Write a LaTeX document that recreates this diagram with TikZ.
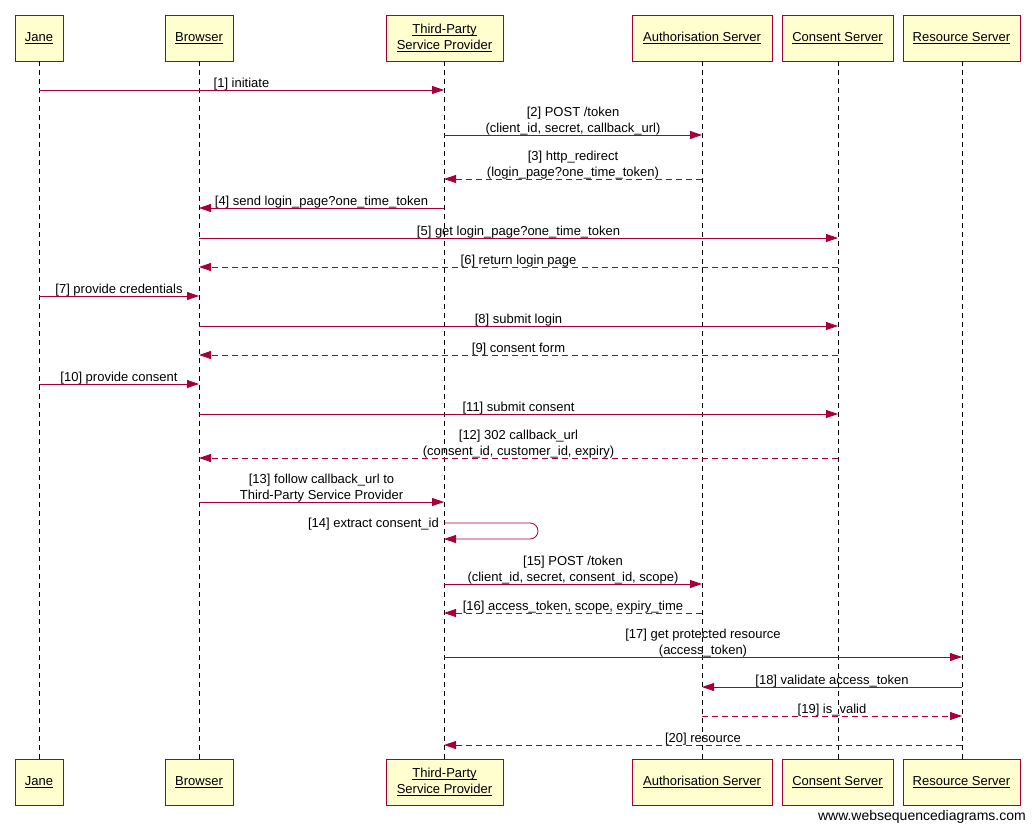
\documentclass[tikz,border=0pt]{standalone}
\usepackage{fontspec}
\setmainfont{Liberation Sans}
\usetikzlibrary{arrows.meta}
\definecolor{wsdred}{HTML}{A80036}
\definecolor{wsdfill}{HTML}{FEFECE}
\newcommand\ulx[1]{\underline{\raisebox{0pt}[\height][0pt]{#1}}}
\newcommand\seqmsg[6]{%
  \coordinate (#1a) at (#2,#4);
  \coordinate (#1b) at (#3,#4);
  \draw[#5] (#1a) -- node[lbl]{#6} (#1b);}
\begin{document}
\begin{tikzpicture}[x=1pt,y=-1pt,
  actor/.style={draw=wsdred,fill=wsdfill,line width=0.8pt,minimum height=46pt,inner sep=0pt,align=center,font=\fontsize{13}{15.5}\selectfont},
  life/.style={draw=black,line width=0.7pt,dash pattern=on 5pt off 4pt},
  msg/.style={draw=wsdred,line width=0.8pt,-{Triangle[length=12pt,width=8pt]}},
  rmsg/.style={msg,dash pattern=on 6pt off 4pt},
  lbl/.style={anchor=south,inner sep=0pt,yshift=-0.5pt,align=center,text=black,font=\fontsize{13}{15.5}\selectfont},
  selflbl/.style={anchor=east,inner sep=0pt,xshift=-5pt,yshift=-1.5pt,text=black,font=\fontsize{13}{15.5}\selectfont}]
\useasboundingbox (0,0) rectangle (1035,829);
% actors top
\node[actor,minimum width=48pt]  (jt) at (39,38)    {\ulx{Jane}};
\node[actor,minimum width=68pt]  (bt) at (199,38)   {\ulx{Browser}};
\node[actor,minimum width=117pt] (tt) at (444.5,38) {\ulx{Third-Party}\\\ulx{Service Provider}};
\node[actor,minimum width=140pt] (at) at (702,38)   {\ulx{Authorisation Server}};
\node[actor,minimum width=111pt] (ct) at (837.5,38) {\ulx{Consent Server}};
\node[actor,minimum width=117pt] (rt) at (961.5,38) {\ulx{Resource Server}};
% actors bottom
\node[actor,minimum width=48pt]  (jb) at (39,782)    {\ulx{Jane}};
\node[actor,minimum width=68pt]  (bb) at (199,782)   {\ulx{Browser}};
\node[actor,minimum width=117pt] (tb) at (444.5,782) {\ulx{Third-Party}\\\ulx{Service Provider}};
\node[actor,minimum width=140pt] (ab) at (702,782)   {\ulx{Authorisation Server}};
\node[actor,minimum width=111pt] (cb) at (837.5,782) {\ulx{Consent Server}};
\node[actor,minimum width=117pt] (rb) at (961.5,782) {\ulx{Resource Server}};
% lifelines
\coordinate (jl1) at (39,61);  \coordinate (jl2) at (39,759);
\coordinate (bl1) at (199,61); \coordinate (bl2) at (199,759);
\coordinate (tl1) at (444,61); \coordinate (tl2) at (444,759);
\coordinate (al1) at (702,61); \coordinate (al2) at (702,759);
\coordinate (cl1) at (838,61); \coordinate (cl2) at (838,759);
\coordinate (rl1) at (962,61); \coordinate (rl2) at (962,759);
\foreach \l in {jl,bl,tl,al,cl,rl} \draw[life] (\l1) -- (\l2);
% messages
\seqmsg{m1}{39}{444}{90}{msg}{[1] initiate}
\seqmsg{m2}{444}{702}{135}{msg}{[2] POST /token\\(client\_id, secret, callback\_url)}
\seqmsg{m3}{702}{444}{179}{rmsg}{[3] http\_redirect\\(login\_page?one\_time\_token)}
\seqmsg{m4}{444}{199}{208}{msg}{[4] send login\_page?one\_time\_token}
\seqmsg{m5}{199}{838}{238}{msg}{[5] get login\_page?one\_time\_token}
\seqmsg{m6}{838}{199}{267}{rmsg}{[6] return login page}
\seqmsg{m7}{39}{199}{296}{msg}{[7] provide credentials}
\seqmsg{m8}{199}{838}{326}{msg}{[8] submit login}
\seqmsg{m9}{838}{199}{355}{rmsg}{[9] consent form}
\seqmsg{m10}{39}{199}{384}{msg}{[10] provide consent}
\seqmsg{m11}{199}{838}{414}{msg}{[11] submit consent}
\seqmsg{m12}{838}{199}{458}{rmsg}{[12] 302 callback\_url\\(consent\_id, customer\_id, expiry)}
\seqmsg{m13}{199}{444}{502}{msg}{[13] follow callback\_url to\\Third-Party Service Provider}
% self message 14
\coordinate (m14a) at (444,523);
\coordinate (m14b) at (444,539);
\draw[msg,rounded corners=8pt] (m14a) -- (538,523) -- (538,539) -- (m14b);
\node[selflbl] (l14) at (m14a) {[14] extract consent\_id};
\seqmsg{m15}{444}{702}{584}{msg}{[15] POST /token\\(client\_id, secret, consent\_id, scope)}
\seqmsg{m16}{702}{444}{613}{rmsg}{[16] access\_token, scope, expiry\_time}
\seqmsg{m17}{444}{962}{657}{msg}{[17] get protected resource\\(access\_token)}
\seqmsg{m18}{962}{702}{687}{msg}{[18] validate access\_token}
\seqmsg{m19}{702}{962}{716}{rmsg}{[19] is\_valid}
\seqmsg{m20}{962}{444}{745}{rmsg}{[20] resource}
% watermark
\node[anchor=base east,inner sep=0pt,font=\fontsize{14}{16}\selectfont] (wm) at (1026,820) {www.websequencediagrams.com};
\end{tikzpicture}
\end{document}
